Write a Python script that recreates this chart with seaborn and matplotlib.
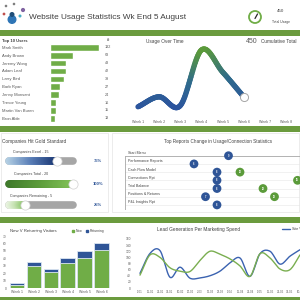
import numpy as np
import pandas as pd
import matplotlib
matplotlib.use("Agg")
import matplotlib.pyplot as plt
from matplotlib.collections import LineCollection
from matplotlib.colors import LinearSegmentedColormap
from matplotlib.patches import Rectangle, Circle, Patch
from matplotlib.lines import Line2D
import seaborn as sns

# ---- data ----
title = "Website Usage Statistics Wk End 5 August"

user_names = ["Mark Smith", "Andy Brown", "Jeremy Wong", "Adam Leaf", "Larry Bird",
              "Barb Ryan", "Jenny Monsant", "Trevor Young", "Martin Van Buren", "Bron Able"]
user_counts = [132, 63, 43, 42, 39, 27, 24, 16, 15, 13]

weeks = ["Week 1", "Week 2", "Week 3", "Week 4", "Week 5", "Week 6", "Week 7", "Week 8"]
weekly_usage = [28, 53, 31, 170, 115, 53]  # only 6 weeks so far

progress_labels = ["Companies Excel - 15", "Companies Total - 20", "Companies Remaining - 5"]
progress_values = [15, 20, 5]
progress_total = 20

reports = ["Start Menu", "Performance Reports", "Cash Flow Model", "Connections Rpt",
           "Trial Balance", "Positions & Returns", "P&L Insights Rpt"]
usage_change = [9, 6, 8, 8, 8, 7, 8]
connection_change = [None, None, 10, 15, 12, 13, None]

visit_weeks = ["Week 1", "Week 2", "Week 3", "Week 4", "Week 5", "Week 6"]
new_visitors = [4, 29, 22, 34, 41, 51]
returning_visitors = [3, 6, 3, 6, 9, 10]

lead_dates = ["1-01", "11-01", "21-01", "31-01", "10-02", "20-02", "2-03", "12-03", "22-03",
              "1-04", "11-04", "21-04", "1-05", "11-05", "21-05", "31-05", "10-06"]
site_visits = [48, 113, 122, 35, 68, 32, 33, 40, 55, 82, 98, 38, 112, 120, 78, 104, 125]
leads = [42, 108, 100, 66, 55, 54, 90, 120, 110, 95, 72, 38, 112, 98, 62, 60, 108]

# ---- colours ----
GREEN = "#70ad47"
BLUE = "#2f5597"
BAND = "#6b9b3e"
TXT = "#404040"
GREY = "#595959"

sns.set_theme(style="white")
plt.rcParams["font.family"] = ["Liberation Sans", "DejaVu Sans"]

W = H = 300
fig = plt.figure(figsize=(3, 3), dpi=100)


def px_axes(x0, y0, x1, y1):
    # axes placed with pixel coords, origin top-left
    a = fig.add_axes([x0 / W, 1 - y1 / H, (x1 - x0) / W, (y1 - y0) / H])
    a.patch.set_alpha(0)
    return a


def smooth(xs, ys, n=24):
    # catmull-rom curve like excel "smoothed line"
    xs = np.asarray(xs, float)
    ys = np.asarray(ys, float)
    px = np.r_[2 * xs[0] - xs[1], xs, 2 * xs[-1] - xs[-2]]
    py = np.r_[2 * ys[0] - ys[1], ys, 2 * ys[-1] - ys[-2]]
    t = np.linspace(0, 1, n, endpoint=False)
    ox, oy = [], []
    for i in range(1, len(px) - 2):
        for p, o in ((px, ox), (py, oy)):
            p0, p1, p2, p3 = p[i - 1], p[i], p[i + 1], p[i + 2]
            o.extend(0.5 * (2 * p1 + (-p0 + p2) * t + (2 * p0 - 5 * p1 + 4 * p2 - p3) * t ** 2
                            + (-p0 + 3 * p1 - 3 * p2 + p3) * t ** 3))
    ox.append(xs[-1])
    oy.append(ys[-1])
    return np.array(ox), np.array(oy)


# background: header, bands, boxes
bg = px_axes(0, 0, 300, 300)
bg.set_xlim(0, 300)
bg.set_ylim(300, 0)
bg.axis("off")
for y0, h in [(30, 5.5), (125.5, 6), (217, 6), (296.5, 4)]:
    bg.add_patch(Rectangle((0, y0), 300, h, color=BAND, lw=0))
bg.add_patch(Rectangle((1, 133), 107, 79, fill=False, ec="#e4e4e4", lw=0.5))
bg.add_patch(Rectangle((112, 133), 187, 79, fill=False, ec="#e4e4e4", lw=0.5))

# little logo
bg.add_patch(Circle((12, 19.5), 3.8, color="#2e75b6"))
bg.add_patch(Circle((12, 14.5), 1.8, color="#1f4e79"))
for (cx, cy, r, c) in [(23, 10, 1.4, "#8064a2"), (6, 6, 0.6, "#7f7f7f"), (14, 4, 0.6, "#7f7f7f"),
                       (4, 14, 0.7, "#c0504d"), (20, 16, 0.8, "#4bacc6")]:
    bg.add_patch(Circle((cx, cy), r, color=c))
bg.text(29, 17.5, title, fontsize=5.95, va="center", color=TXT)

# gauge + total
bg.add_patch(Circle((255, 17), 6, fill=False, ec=GREEN, lw=1.3))
bg.plot([255, 257.5], [18.5, 14], color="#262626", lw=0.9)
bg.text(281, 11.5, str(sum(weekly_usage)), fontsize=3.2, ha="center", va="center", color=TXT)
bg.text(281, 21.5, "Total Usage", fontsize=2.4, ha="center", va="center", color=TXT)

# ---- top 10 users ----
bg.text(2, 41, "Top 10 Users", fontsize=3, va="center", color=TXT, fontweight="bold")
bg.text(107, 40, "#", fontsize=3, va="center", color=TXT, fontweight="bold")
ax1 = px_axes(50, 43.4, 104, 122.2)
users = pd.DataFrame({"name": user_names, "count": user_counts})
sns.barplot(data=users, x="count", y="name", orient="h", color=GREEN, saturation=1,
            width=0.85, ax=ax1)
ax1.set_xlim(0, 146)
ax1.set_xlabel("")
ax1.set_ylabel("")
ax1.set_xticks([])
ax1.set_yticks(range(len(user_names)))
ax1.set_yticklabels(user_names, ha="left", fontsize=3, color=GREY)
ax1.tick_params(axis="y", length=0, pad=34.5)
sns.despine(ax=ax1, left=True, bottom=True)
for i, v in enumerate(user_counts):
    ax1.text(1.02, i, str(v), transform=ax1.get_yaxis_transform(), fontsize=2.7,
             va="center", color=GREY)

# ---- usage over time ----
bg.text(165, 41, "Usage Over Time", fontsize=3.4, ha="center", va="center", color=TXT)
bg.text(252, 41.5, str(sum(weekly_usage)), fontsize=5, ha="center", va="center", color=GREY)
bg.text(261, 41.5, "Cumulative Total", fontsize=3.4, va="center", color=TXT)
ax2 = px_axes(127, 45, 297, 118)
wx = np.arange(1, len(weekly_usage) + 1)
sx, sy = smooth(wx, weekly_usage)
pts = np.column_stack([sx, sy]).reshape(-1, 1, 2)
segs = np.concatenate([pts[:-1], pts[1:]], axis=1)
grad = LinearSegmentedColormap.from_list("g", ["#2b52a0", "#2f6b8c", "#5b9a3a"])
lc = LineCollection(segs, cmap=grad, norm=plt.Normalize(20, 170), lw=3.8, capstyle="round")
lc.set_array((sy[:-1] + sy[1:]) / 2)
ax2.add_collection(lc)
sns.scatterplot(x=[wx[-1]], y=[weekly_usage[-1]], s=34, color="white", edgecolor="#a6a6a6",
                linewidth=0.7, ax=ax2, zorder=5)
ax2.set_xlim(0.48, 8.52)
ax2.set_ylim(0, 182.5)
ax2.set_xticks(range(1, 9))
ax2.set_xticklabels(weeks, fontsize=2.6, color=GREY)
ax2.set_yticks([])
ax2.tick_params(axis="x", length=0, pad=1.5)
sns.despine(ax=ax2, left=True, bottom=True)

# ---- companies gold standard ----
bg.text(2, 142, "Companies Hit Gold Standard", fontsize=3.4, va="center", color=TXT)
ax3 = px_axes(0, 132, 110, 212)
ax3.set_xlim(-9.5 / 3.2, 100.5 / 3.2)
ax3.set_ylim(212, 132)
ax3.axis("off")
bar_rows = [161, 184, 205]
label_rows = [152, 174, 196]
cmaps = [["#b4d0e4", "#5a7fb8", "#1f3c78"], ["#3f7a2b", "#5b9b3a", "#7fbf55"],
         ["#eaf4e2", "#c8e3b4", "#92c871"]]
for k in range(3):
    y = bar_rows[k]
    val = progress_values[k]
    ax3.plot([0, progress_total], [y, y], color="#a6a6a6", lw=5.5, solid_capstyle="round")
    xs = np.linspace(0, val, 80)
    sg = [[(xs[j], y), (xs[j + 1], y)] for j in range(len(xs) - 1)]
    cm = LinearSegmentedColormap.from_list("c%d" % k, cmaps[k])
    ax3.add_collection(LineCollection(sg, colors=cm(np.linspace(0, 1, len(sg))), lw=5.5,
                                      capstyle="round"))
    ax3.scatter([val], [y], s=44, color="white", edgecolor="#d0d0d0", linewidth=0.5, zorder=5)
    ax3.text(6.7, label_rows[k], progress_labels[k], fontsize=2.6, ha="center", va="center",
             color=TXT)
    pct = "%d%%" % round(100 * val / progress_total)
    ax3.text(27.7, y, pct, fontsize=3, ha="center", va="center", color=BLUE,
             fontweight="bold")

# ---- top reports ----
bg.text(218, 142, "Top Reports Change in Usage/Connection Statistics", fontsize=3.3,
        ha="center", va="center", color=TXT)
ax4 = px_axes(125, 149, 300, 210)
ax4.set_xlim(0, 175 / 11.5)
ax4.set_ylim(6.62, -0.82)
ax4.axis("off")
rows = np.arange(len(reports))
for i in rows[1:]:
    ax4.plot([0, 20], [i, i], color="#e6e6e6", lw=0.4, clip_on=False)
ax4.plot([0, 20], [0, 0], color="#a6a6a6", lw=0.6, clip_on=False)
ax4.plot([0, 0], [0, 6.62], color="#a6a6a6", lw=0.6)
for i, name in enumerate(reports):
    ax4.text(0.3, i - 0.3, name, fontsize=2.6, va="center", color=TXT)
sns.scatterplot(x=usage_change, y=rows, s=40, color=BLUE, edgecolor="none", ax=ax4,
                zorder=4, clip_on=False)
gi = [i for i, v in enumerate(connection_change) if v is not None]
gv = [connection_change[i] for i in gi]
sns.scatterplot(x=gv, y=gi, s=40, color="#5b9b3a", edgecolor="none", ax=ax4, zorder=4,
                clip_on=False)
for i, v in enumerate(usage_change):
    ax4.text(v, i, str(v), fontsize=1.8, color="white", ha="center", va="center",
             fontweight="bold", zorder=6)
for i, v in zip(gi, gv):
    ax4.text(v, i, str(v), fontsize=1.8, color="white", ha="center", va="center",
             fontweight="bold", zorder=6)

# ---- new v returning ----
bg.text(10, 231, "New V Returning Visitors", fontsize=3.1, va="center", color=TXT)
ax5 = px_axes(8.5, 236, 110, 288)
totals = [a + b for a, b in zip(new_visitors, returning_visitors)]
sns.barplot(x=visit_weeks, y=totals, color=BLUE, saturation=1, width=0.86,
            edgecolor="#dce6f2", linewidth=0.6, ax=ax5)
sns.barplot(x=visit_weeks, y=new_visitors, color=GREEN, saturation=1, width=0.86,
            edgecolor="#dce6f2", linewidth=0.6, ax=ax5)
ax5.set_ylim(0, 70)
ax5.set_yticks(range(0, 71, 10))
ax5.tick_params(axis="y", labelsize=2.3, colors=GREY, length=0, pad=1.5)
ax5.tick_params(axis="x", labelsize=2.5, colors=GREY, length=0, pad=1.5)
sns.despine(ax=ax5, left=True, bottom=True)
ax5.legend(handles=[Patch(color=GREEN, label="New"), Patch(color=BLUE, label="Returning")],
           ncol=2, frameon=False, fontsize=2.4, loc="center left",
           bbox_to_anchor=(69 / W, 1 - 231 / H), bbox_transform=fig.transFigure,
           handlelength=0.7, handleheight=0.7, handletextpad=0.3, columnspacing=1.2,
           labelcolor=TXT)

# ---- lead generation ----
bg.text(157, 229, "Lead Generation Per Marketing Spend", fontsize=3.4, va="center",
        color=TXT)
ax6 = px_axes(133, 239, 300, 288)
days = np.arange(len(lead_dates)) * 10
bx, by = smooth(days, site_visits, 12)
gx, gy = smooth(days, leads, 12)
lines = pd.concat([pd.DataFrame({"day": bx, "val": by, "series": "Site Visits"}),
                   pd.DataFrame({"day": gx, "val": gy, "series": "Leads"})])
sns.lineplot(data=lines, x="day", y="val", hue="series", sort=False, estimator=None,
             palette={"Site Visits": "#3a62b0", "Leads": "#7aae50"}, lw=1.0, ax=ax6,
             legend=False)
ax6.set_xlim(-7, 160)
ax6.set_ylim(0, 160)
ax6.set_xticks(days)
ax6.set_xticklabels(lead_dates)
ax6.set_yticks(range(0, 161, 20))
ax6.set_xlabel("")
ax6.set_ylabel("")
ax6.tick_params(axis="y", labelsize=2.3, colors=GREY, length=0, pad=1.5)
ax6.tick_params(axis="x", labelsize=2.0, colors=GREY, length=0, pad=1.5)
sns.despine(ax=ax6, left=True, bottom=True)
# legend sits at the right edge and runs off the dashboard, as in the source
ax6.legend(handles=[Line2D([], [], color="#3a62b0", lw=1.0, label="Site Visits")],
           frameon=False, fontsize=2.6, loc="center left",
           bbox_to_anchor=(279 / W, 1 - 229 / H), bbox_transform=fig.transFigure,
           handlelength=2.2, handletextpad=0.4, labelcolor=TXT)

fig.savefig("out.png", dpi=100)
